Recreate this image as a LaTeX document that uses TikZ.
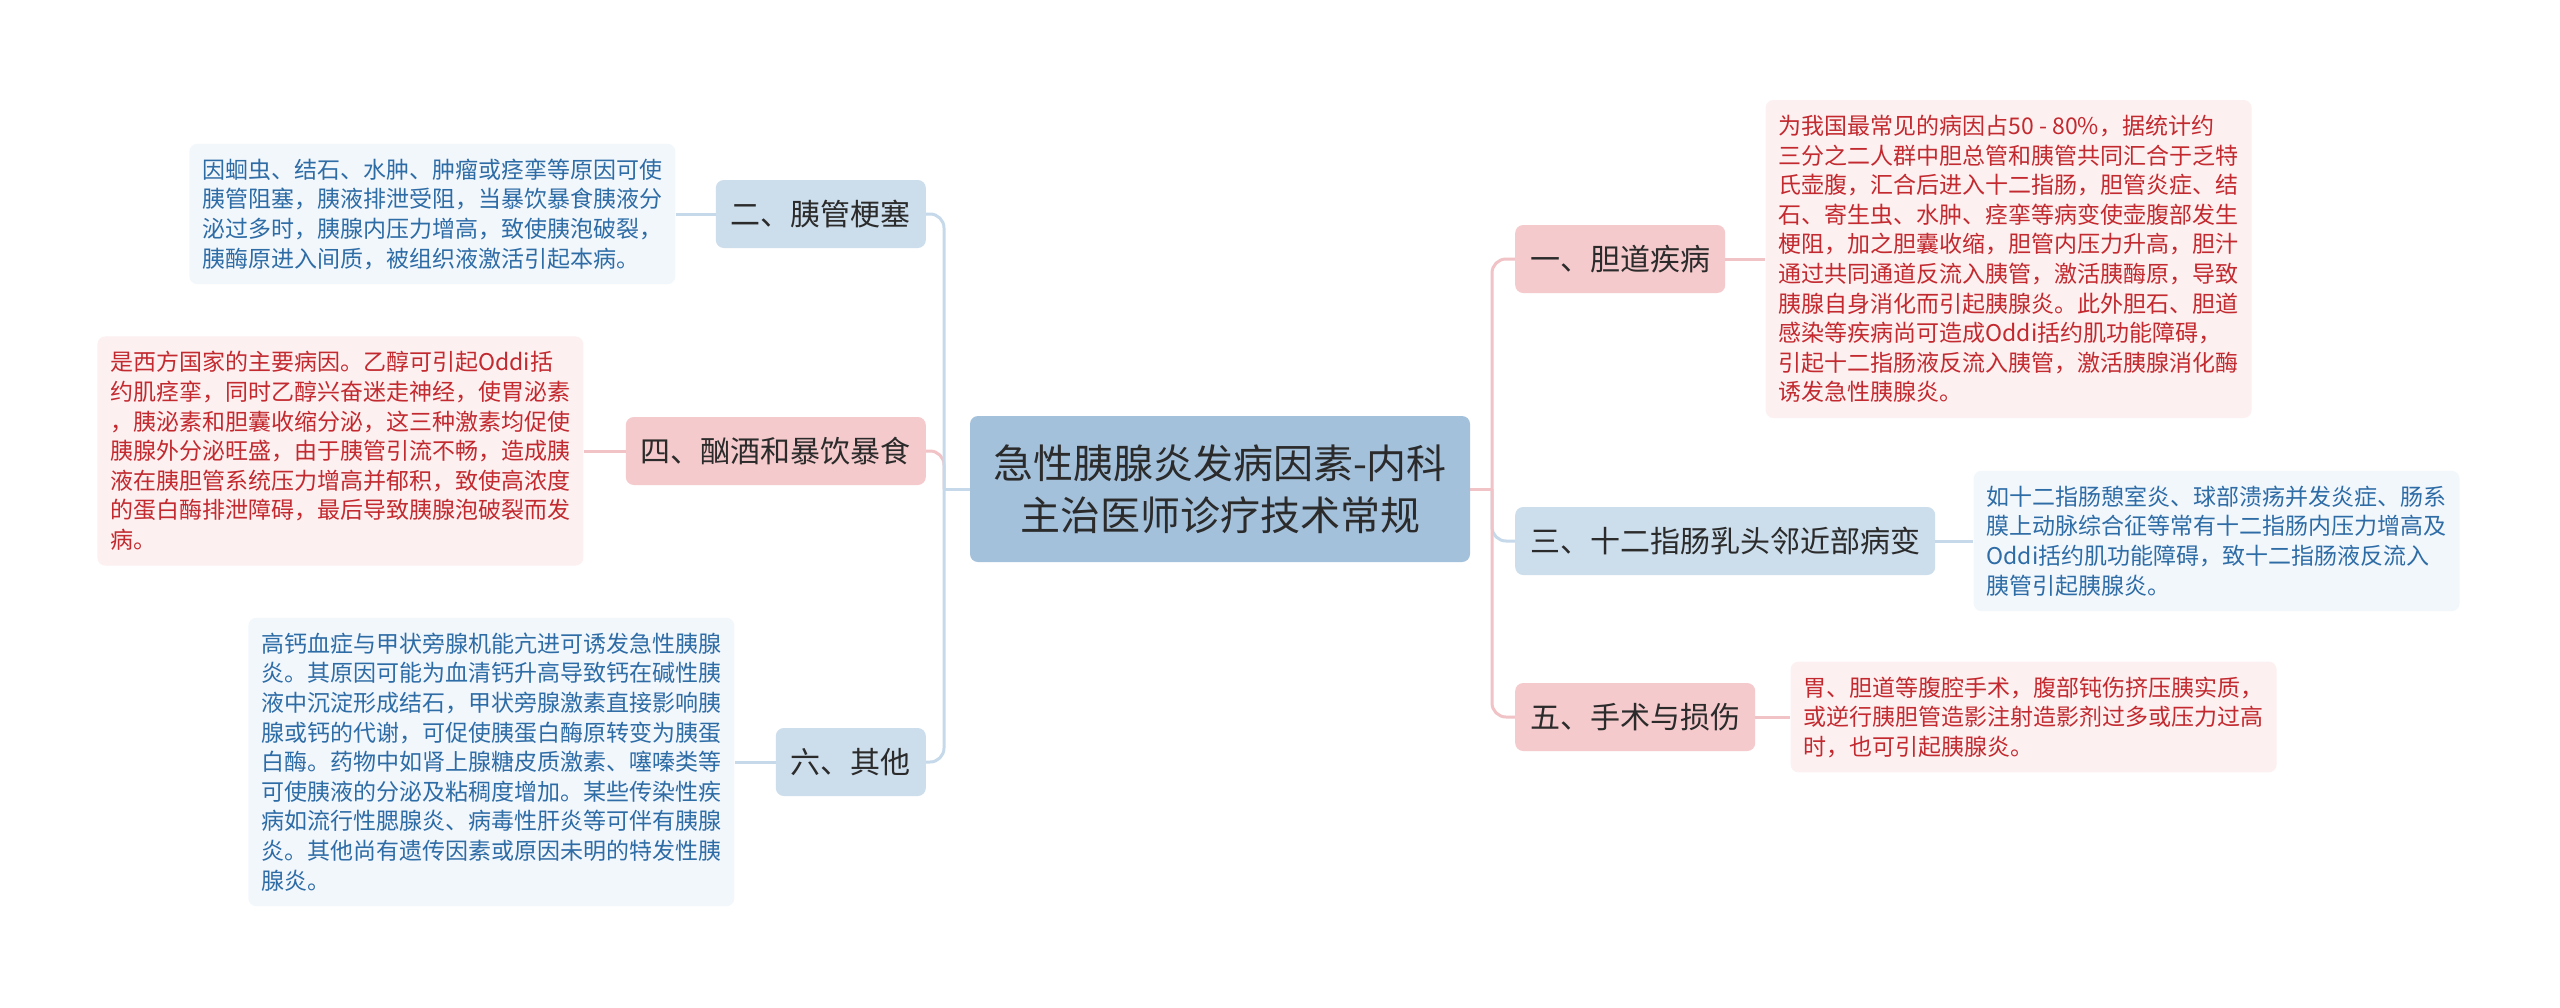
\documentclass[tikz,border=0pt]{standalone}
\usepackage{fontspec}
\setmainfont{Noto Sans CJK SC}
\usetikzlibrary{backgrounds}
\definecolor{cfill}{HTML}{A4C1DC}
\definecolor{ctext}{HTML}{2B2B2B}
\definecolor{bbr}{HTML}{CCDDEC}
\definecolor{pbr}{HTML}{F5CACC}
\definecolor{bdet}{HTML}{F2F7FC}
\definecolor{pdet}{HTML}{FDF0F1}
\definecolor{btxt}{HTML}{2E6CA6}
\definecolor{ptxt}{HTML}{C22A2F}
\definecolor{bln}{HTML}{C6D9EA}
\definecolor{pln}{HTML}{F2C3C6}
\newcommand\dstr{\rule[-6.1pt]{0pt}{29.6pt}}
\newcommand\bstr{\rule[-0.12em]{0pt}{1em}}
\begin{document}
\begin{tikzpicture}[x=1pt,y=-1pt,
  centerbox/.style={rounded corners=8pt, fill=cfill, text=ctext, minimum width=500pt, minimum height=146pt, align=center, inner sep=0pt, font=\fontsize{40pt}{52pt}\selectfont},
  brbase/.style={rounded corners=8pt, text=ctext, minimum height=68pt, inner xsep=15pt, inner ysep=0pt, font=\fontsize{30pt}{36pt}\selectfont},
  bbranch/.style={brbase, fill=bbr},
  pbranch/.style={brbase, fill=pbr},
  detbase/.style={rounded corners=8pt, align=left, inner xsep=13pt, inner ysep=11pt, minimum width=486pt, font=\fontsize{23pt}{29.6pt}\selectfont},
  bdetail/.style={detbase, fill=bdet, text=btxt},
  pdetail/.style={detbase, fill=pdet, text=ptxt},
  bline/.style={draw=bln, line width=3pt},
  pline/.style={draw=pln, line width=3pt},
  elbow/.style={rounded corners=14pt}
]
\useasboundingbox (0,0) rectangle (2560,1007);

\node[centerbox] (c) at (1220,489) {\bstr 急性胰腺炎发病因素-内科\\\bstr 主治医师诊疗技术常规};

% right branches
\node[pbranch, anchor=west] (b1) at (1515,259) {\bstr 一、胆道疾病};
\node[bbranch, anchor=west] (b3) at (1515,541) {\bstr 三、十二指肠乳头邻近部病变};
\node[pbranch, anchor=west] (b5) at (1515,717) {\bstr 五、手术与损伤};
% left branches
\node[bbranch, anchor=east] (b2) at (926,214) {\bstr 二、胰管梗塞};
\node[pbranch, anchor=east] (b4) at (926,451) {\bstr 四、酗酒和暴饮暴食};
\node[bbranch, anchor=east] (b6) at (926,762) {\bstr 六、其他};

% details right
\node[pdetail, anchor=west] (d1) at ([xshift=40pt]b1.east) {\dstr 为我国最常见的病因占50 - 80\%，据统计约\\
\dstr 三分之二人群中胆总管和胰管共同汇合于乏特\\
\dstr 氏壶腹，汇合后进入十二指肠，胆管炎症、结\\
\dstr 石、寄生虫、水肿、痉挛等病变使壶腹部发生\\
\dstr 梗阻，加之胆囊收缩，胆管内压力升高，胆汁\\
\dstr 通过共同通道反流入胰管，激活胰酶原，导致\\
\dstr 胰腺自身消化而引起胰腺炎。此外胆石、胆道\\
\dstr 感染等疾病尚可造成Oddi括约肌功能障碍，\\
\dstr 引起十二指肠液反流入胰管，激活胰腺消化酶\\
\dstr 诱发急性胰腺炎。};
\node[bdetail, anchor=west] (d3) at ([xshift=38pt]b3.east) {\dstr 如十二指肠憩室炎、球部溃疡并发炎症、肠系\\
\dstr 膜上动脉综合征等常有十二指肠内压力增高及\\
\dstr Oddi括约肌功能障碍，致十二指肠液反流入\\
\dstr 胰管引起胰腺炎。};
\node[pdetail, anchor=west] (d5) at ([xshift=35pt]b5.east) {\dstr 胃、胆道等腹腔手术，腹部钝伤挤压胰实质，\\
\dstr 或逆行胰胆管造影注射造影剂过多或压力过高\\
\dstr 时，也可引起胰腺炎。};

% details left
\node[bdetail, anchor=east] (d2) at ([xshift=-40pt]b2.west) {\dstr 因蛔虫、结石、水肿、肿瘤或痉挛等原因可使\\
\dstr 胰管阻塞，胰液排泄受阻，当暴饮暴食胰液分\\
\dstr 泌过多时，胰腺内压力增高，致使胰泡破裂，\\
\dstr 胰酶原进入间质，被组织液激活引起本病。};
\node[pdetail, anchor=east] (d4) at ([xshift=-42pt]b4.west) {\dstr 是西方国家的主要病因。乙醇可引起Oddi括\\
\dstr 约肌痉挛，同时乙醇兴奋迷走神经，使胃泌素\\
\dstr ，胰泌素和胆囊收缩分泌，这三种激素均促使\\
\dstr 胰腺外分泌旺盛，由于胰管引流不畅，造成胰\\
\dstr 液在胰胆管系统压力增高并郁积，致使高浓度\\
\dstr 的蛋白酶排泄障碍，最后导致胰腺泡破裂而发\\
\dstr 病。};
\node[bdetail, anchor=east] (d6) at ([xshift=-41pt]b6.west) {\dstr 高钙血症与甲状旁腺机能亢进可诱发急性胰腺\\
\dstr 炎。其原因可能为血清钙升高导致钙在碱性胰\\
\dstr 液中沉淀形成结石，甲状旁腺激素直接影响胰\\
\dstr 腺或钙的代谢，可促使胰蛋白酶原转变为胰蛋\\
\dstr 白酶。药物中如肾上腺糖皮质激素、噻嗪类等\\
\dstr 可使胰液的分泌及粘稠度增加。某些传染性疾\\
\dstr 病如流行性腮腺炎、病毒性肝炎等可伴有胰腺\\
\dstr 炎。其他尚有遗传因素或原因未明的特发性胰\\
\dstr 腺炎。};

\begin{scope}[on background layer]
\fill[white] (0,0) rectangle (2560,1007);
\coordinate (jr) at (1492,489);
\coordinate (jl) at (944,489);
% right side
\draw[bline, elbow] (jr) -- (jr |- b3.west) -- (b3.west);
\draw[pline, elbow] (jr) -- (jr |- b1.west) -- (b1.west);
\draw[pline, elbow] (jr) -- (jr |- b5.west) -- (b5.west);
\draw[pline] (c.east) -- (jr);
% left side
\draw[pline, elbow] (jl) -- (jl |- b4.east) -- (b4.east);
\draw[bline, elbow] (jl) -- (jl |- b2.east) -- (b2.east);
\draw[bline, elbow] (jl) -- (jl |- b6.east) -- (b6.east);
\draw[bline] (c.west) -- (jl);
% detail links
\draw[pline] (b1.east) -- (d1.west);
\draw[bline] (b3.east) -- (d3.west);
\draw[pline] (b5.east) -- (d5.west);
\draw[bline] (b2.west) -- (d2.east);
\draw[pline] (b4.west) -- (d4.east);
\draw[bline] (b6.west) -- (d6.east);
\end{scope}
\end{tikzpicture}
\end{document}
